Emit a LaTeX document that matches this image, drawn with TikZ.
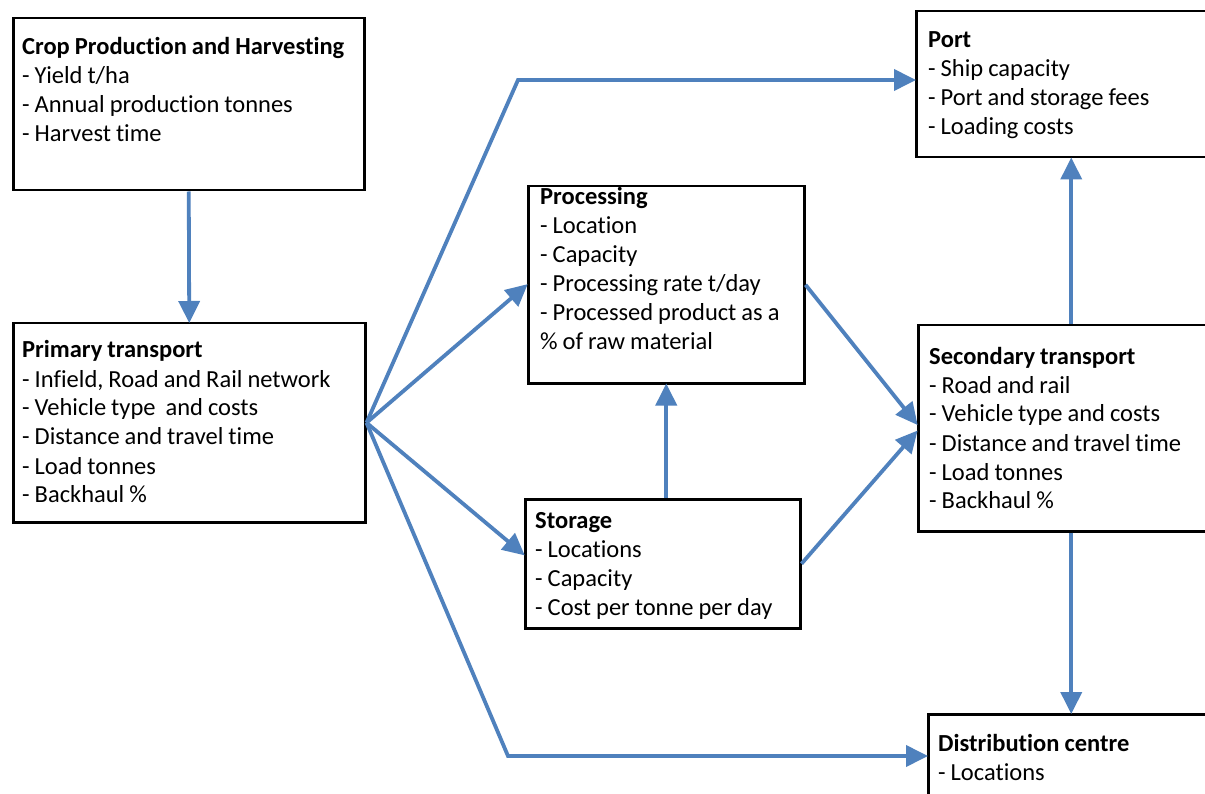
\documentclass[tikz,border=0pt]{standalone}
\usepackage{fontspec}
\setmainfont[Ligatures=NoCommon]{Carlito}
\usetikzlibrary{arrows.meta}
\definecolor{flowblue}{RGB}{79,129,189}
\newcommand{\tightspaces}{\spaceskip=5pt plus 1pt\relax}
\begin{document}
\begin{tikzpicture}[x=1pt,y=-1pt,
  box/.style={draw=black,line width=2.5pt,fill=white,rectangle,inner sep=0pt,anchor=north west},
  txt/.style={anchor=base west,inner sep=0pt,text width=360pt,align=left,
    font=\fontsize{24.5}{29}\selectfont,execute at begin node=\tightspaces},
  flow/.style={draw=flowblue,line width=3.8pt,
    -{Triangle[length=22pt,width=21pt]},shorten >=-1pt}]
\useasboundingbox (0,0) rectangle (1205,794);
\fill[white] (0,0) rectangle (1205,794);

% boxes
\node[box,minimum width=351pt,minimum height=172pt] (crop) at (12,17) {};
\node[box,minimum width=352pt,minimum height=199pt] (prim) at (12,322) {};
\node[box,minimum width=276pt,minimum height=197pt] (proc) at (527,185) {};
\node[box,minimum width=275pt,minimum height=129pt] (stor) at (524,498) {};
\node[box,minimum width=292pt,minimum height=146pt] (port) at (915,10) {};
\node[box,minimum width=292pt,minimum height=206pt] (sec) at (917,324) {};
\node[box,minimum width=292pt,minimum height=100pt] (dist) at (927,713) {};

% box texts
\node[txt] (cropt) at (22,55) {\textbf{Crop Production and Harvesting}\\- Yield t/ha\\- Annual production tonnes\\- Harvest time};
\node[txt] (primt) at (22,358) {\textbf{Primary transport}\\- Infield, Road and Rail network\\- Vehicle type\ \ and costs\\- Distance and travel time\\- Load tonnes\\- Backhaul \%};
\node[txt] (proct) at (540,205) {\textbf{Processing}\\- Location\\- Capacity\\- Processing rate t/day\\- Processed product as a\\\% of raw material};
\node[txt] (stort) at (535,528) {\textbf{Storage}\\- Locations\\- Capacity\\- Cost per tonne per day};
\node[txt] (portt) at (928,48) {\textbf{Port}\\- Ship capacity\\- Port and storage fees\\- Loading costs};
\node[txt] (sect) at (929,364) {\textbf{Secondary transport}\\- Road and rail\\- Vehicle type and costs\\- Distance and travel time\\- Load tonnes\\- Backhaul \%};
\node[txt] (distt) at (938,751) {\textbf{Distribution centre}\\- Locations};

% bend points of the two outer routes
\coordinate (portbend) at (518,80);
\coordinate (distbend) at (508,756);

% connectors
\draw[flow] (crop.south) -- (prim.north);
\draw[flow] (prim.east) -- (portbend) -- (portbend -| port.west);
\draw[flow] (prim.east) -- (proc.west);
\draw[flow] (prim.east) -- ([yshift=9pt]stor.west);
\draw[flow] (prim.east) -- (distbend) -- (distbend -| dist.west);
\draw[flow] (proc.east) -- ([yshift=4pt]sec.west);
\draw[flow] (stor.east) -- ([yshift=-3pt]sec.west);
\draw[flow] (stor.north -| proc.south) -- (proc.south);
\draw[flow] ([xshift=7pt]sec.north) -- ([xshift=7pt]sec.north |- port.south);
\draw[flow] ([xshift=7pt]sec.south) -- ([xshift=7pt]sec.south |- dist.north);
\end{tikzpicture}
\end{document}
